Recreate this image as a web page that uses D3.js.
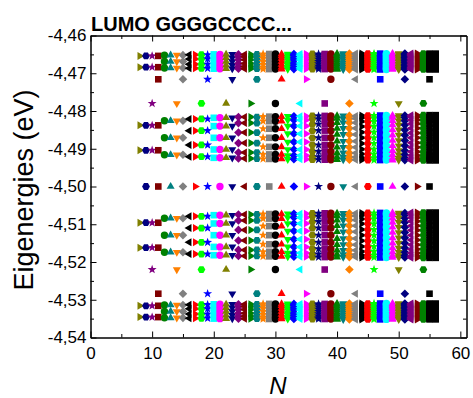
<!DOCTYPE html>
<html>
<head>
<meta charset="utf-8">
<script src="https://cdn.jsdelivr.net/npm/d3@7"></script>
<style>
  html, body { margin: 0; padding: 0; background: #fff; }
  svg { display: block; font-family: Arial, "Liberation Sans", sans-serif; }
</style>
</head>
<body>
<svg id="chart" width="473" height="398"></svg>
<script>
// chain length N (x axis)
const chainLengths = [8, 9, 10, 11, 12, 13, 14, 15, 16, 17, 18, 19, 20, 21, 22, 23, 24,
  25, 26, 27, 28, 29, 30, 31, 32, 33, 34, 35, 36, 37, 38, 39, 40, 41, 42, 43, 44, 45,
  46, 47, 48, 49, 50, 51, 52, 53, 54, 55, 56];

// band eigenvalues (eV), one list per k = floor(N/4), k = 2 .. 14
const band1 = [
  [-4.4654, -4.4684],
  [-4.4652, -4.4669, -4.4686],
  [-4.4651, -4.4662, -4.4676, -4.4687],
  [-4.4650, -4.4659, -4.4669, -4.4679, -4.4688],
  [-4.4650, -4.4656, -4.4664, -4.4674, -4.4682, -4.4688],
  [-4.4649, -4.4654, -4.4661, -4.4669, -4.4677, -4.4684, -4.4689],
  [-4.4649, -4.4653, -4.4659, -4.4665, -4.4673, -4.4679, -4.4685, -4.4689],
  [-4.4649, -4.4652, -4.4657, -4.4663, -4.4669, -4.4675, -4.4681, -4.4686, -4.4689],
  [-4.4648, -4.4651, -4.4656, -4.4661, -4.4666, -4.4672, -4.4677, -4.4682, -4.4687, -4.4690],
  [-4.4648, -4.4651, -4.4655, -4.4659, -4.4664, -4.4669, -4.4674, -4.4679, -4.4683, -4.4687, -4.4690],
  [-4.4648, -4.4650, -4.4654, -4.4658, -4.4662, -4.4667, -4.4671, -4.4676, -4.4680, -4.4684, -4.4688, -4.4690],
  [-4.4648, -4.4650, -4.4653, -4.4657, -4.4661, -4.4665, -4.4669, -4.4673, -4.4677, -4.4681, -4.4685, -4.4688, -4.4690],
  [-4.4648, -4.4650, -4.4653, -4.4656, -4.4659, -4.4663, -4.4667, -4.4671, -4.4675, -4.4679, -4.4682, -4.4685, -4.4688, -4.4690]
];
const band2 = [
  [-4.4838, -4.4904],
  [-4.4826, -4.4871, -4.4916],
  [-4.4821, -4.4852, -4.4890, -4.4921],
  [-4.4818, -4.4840, -4.4871, -4.4902, -4.4924],
  [-4.4816, -4.4832, -4.4857, -4.4885, -4.4910, -4.4926],
  [-4.4815, -4.4827, -4.4847, -4.4871, -4.4895, -4.4915, -4.4927],
  [-4.4814, -4.4824, -4.4840, -4.4860, -4.4882, -4.4902, -4.4918, -4.4928],
  [-4.4813, -4.4821, -4.4835, -4.4852, -4.4871, -4.4890, -4.4907, -4.4921, -4.4929],
  [-4.4813, -4.4820, -4.4831, -4.4846, -4.4862, -4.4880, -4.4896, -4.4911, -4.4922, -4.4929],
  [-4.4812, -4.4818, -4.4828, -4.4841, -4.4856, -4.4871, -4.4886, -4.4901, -4.4914, -4.4924, -4.4930],
  [-4.4812, -4.4817, -4.4826, -4.4837, -4.4850, -4.4864, -4.4878, -4.4892, -4.4905, -4.4916, -4.4925, -4.4930],
  [-4.4811, -4.4816, -4.4824, -4.4834, -4.4846, -4.4858, -4.4871, -4.4884, -4.4896, -4.4908, -4.4918, -4.4926, -4.4931],
  [-4.4811, -4.4815, -4.4823, -4.4832, -4.4843, -4.4854, -4.4865, -4.4877, -4.4888, -4.4899, -4.4910, -4.4919, -4.4927, -4.4931]
];
const band3 = [
  [-4.5096, -4.5162],
  [-4.5084, -4.5129, -4.5174],
  [-4.5079, -4.5110, -4.5148, -4.5179],
  [-4.5076, -4.5098, -4.5129, -4.5160, -4.5182],
  [-4.5074, -4.5090, -4.5115, -4.5143, -4.5168, -4.5184],
  [-4.5073, -4.5085, -4.5105, -4.5129, -4.5153, -4.5173, -4.5185],
  [-4.5072, -4.5082, -4.5098, -4.5118, -4.5140, -4.5160, -4.5176, -4.5186],
  [-4.5071, -4.5079, -4.5093, -4.5110, -4.5129, -4.5148, -4.5165, -4.5179, -4.5187],
  [-4.5071, -4.5078, -4.5089, -4.5104, -4.5120, -4.5138, -4.5154, -4.5169, -4.5180, -4.5187],
  [-4.5070, -4.5076, -4.5086, -4.5099, -4.5114, -4.5129, -4.5144, -4.5159, -4.5172, -4.5182, -4.5188],
  [-4.5070, -4.5075, -4.5084, -4.5095, -4.5108, -4.5122, -4.5136, -4.5150, -4.5163, -4.5174, -4.5183, -4.5188],
  [-4.5069, -4.5074, -4.5082, -4.5092, -4.5104, -4.5116, -4.5129, -4.5142, -4.5154, -4.5166, -4.5176, -4.5184, -4.5189],
  [-4.5069, -4.5073, -4.5081, -4.5090, -4.5101, -4.5112, -4.5123, -4.5135, -4.5146, -4.5157, -4.5168, -4.5177, -4.5185, -4.5189]
];
const band4 = [
  [-4.5316, -4.5346],
  [-4.5314, -4.5331, -4.5348],
  [-4.5313, -4.5324, -4.5338, -4.5349],
  [-4.5312, -4.5321, -4.5331, -4.5341, -4.5350],
  [-4.5312, -4.5318, -4.5326, -4.5336, -4.5344, -4.5350],
  [-4.5311, -4.5316, -4.5323, -4.5331, -4.5339, -4.5346, -4.5351],
  [-4.5311, -4.5315, -4.5321, -4.5327, -4.5335, -4.5341, -4.5347, -4.5351],
  [-4.5311, -4.5314, -4.5319, -4.5325, -4.5331, -4.5337, -4.5343, -4.5348, -4.5351],
  [-4.5310, -4.5313, -4.5318, -4.5323, -4.5328, -4.5334, -4.5339, -4.5344, -4.5349, -4.5352],
  [-4.5310, -4.5313, -4.5317, -4.5321, -4.5326, -4.5331, -4.5336, -4.5341, -4.5345, -4.5349, -4.5352],
  [-4.5310, -4.5312, -4.5316, -4.5320, -4.5324, -4.5329, -4.5333, -4.5338, -4.5342, -4.5346, -4.5350, -4.5352],
  [-4.5310, -4.5312, -4.5315, -4.5319, -4.5323, -4.5327, -4.5331, -4.5335, -4.5339, -4.5343, -4.5347, -4.5350, -4.5352],
  [-4.5310, -4.5312, -4.5315, -4.5318, -4.5321, -4.5325, -4.5329, -4.5333, -4.5337, -4.5341, -4.5344, -4.5347, -4.5350, -4.5352]
];
// in-gap states, by N mod 4
const gapStates = [
  [],
  [-4.5000],
  [-4.4780, -4.5220],
  [-4.4716, -4.5000, -4.5284]
];

const xTicks = [0, 10, 20, 30, 40, 50, 60];
const xMinorTicks = [5, 15, 25, 35, 45, 55];
const yTicks = [-4.54, -4.53, -4.52, -4.51, -4.50, -4.49, -4.48, -4.47, -4.46];
const yTickLabels = ["-4,54", "-4,53", "-4,52", "-4,51", "-4,50", "-4,49", "-4,48", "-4,47", "-4,46"];
const yMinorTicks = [-4.535, -4.525, -4.515, -4.505, -4.495, -4.485, -4.475, -4.465];

// Origin-like plot style cycles
const colorCycle = ["#808000", "#000080", "#800080", "#800000", "#008000", "#008080", "#ff8000",
  "#808080", "#000000", "#ff0000", "#00ff00", "#0000ff", "#00ffff", "#ff00ff"];
const shapeCycle = ["right", "hexagon", "star", "square", "circle", "up", "down", "diamond", "left"];

const svg = d3.select("#chart");
const x = d3.scaleLinear().domain([0, 61]).range([90.5, 466.5]);
const y = d3.scaleLinear().domain([-4.54, -4.46]).range([337.5, 35.5]);

const polygon = (pts) => "M" + pts.map((p) => p[0].toFixed(2) + "," + p[1].toFixed(2)).join("L") + "Z";
const ring = (n, r, a0) => d3.range(n).map((i) => {
  const a = a0 + (i * 2 * Math.PI) / n;
  return [r * Math.cos(a), r * Math.sin(a)];
});

const shapes = {
  square: polygon([[-3.3, -3.3], [3.3, -3.3], [3.3, 3.3], [-3.3, 3.3]]),
  circle: "M-3.7,0A3.7,3.7 0 1,0 3.7,0A3.7,3.7 0 1,0 -3.7,0Z",
  up: polygon([[0, -4.6], [4, 2.3], [-4, 2.3]]),
  down: polygon([[0, 4.6], [4, -2.3], [-4, -2.3]]),
  right: polygon([[4.6, 0], [-2.3, -4], [-2.3, 4]]),
  left: polygon([[-4.6, 0], [2.3, -4], [2.3, 4]]),
  diamond: polygon([[0, -4.3], [4.3, 0], [0, 4.3], [-4.3, 0]]),
  hexagon: polygon(ring(6, 3.9, 0)),
  star: polygon(d3.range(10).map((i) => {
    const r = i % 2 ? 1.9 : 4.7;
    const a = -Math.PI / 2 + (i * Math.PI) / 5;
    return [r * Math.cos(a), r * Math.sin(a)];
  }))
};

const styleFor = (n, i) => {
  // the last two chains were drawn as black squares
  if (n >= 55) return { color: "#000000", shape: "square" };
  return { color: colorCycle[i % colorCycle.length], shape: shapeCycle[i % shapeCycle.length] };
};

const points = [];
chainLengths.forEach((n, i) => {
  const k = Math.floor(n / 4) - 2;
  const levels = [].concat(band1[k], band2[k], band3[k], band4[k], gapStates[n % 4]);
  const st = styleFor(n, i);
  levels.forEach((e) => points.push({ n, e, color: st.color, shape: st.shape }));
});

// markers
svg.append("g")
  .selectAll("path")
  .data(points)
  .join("path")
  .attr("transform", (d) => `translate(${x(d.n)},${y(d.e)})`)
  .attr("d", (d) => shapes[d.shape])
  .attr("fill", (d) => d.color);

// axes
const styleAxis = (g) => {
  g.selectAll("path, line").attr("stroke", "#000").attr("stroke-width", 1);
  g.selectAll("text").attr("fill", "#000").attr("font-size", 17)
    .attr("font-family", "Arial, 'Liberation Sans', sans-serif");
};

svg.append("g")
  .attr("transform", `translate(0,${y(-4.54)})`)
  .call(d3.axisBottom(x).tickValues(xTicks).tickSize(-6).tickSizeOuter(0).tickPadding(9).tickFormat(d3.format("d")))
  .call(styleAxis);
svg.append("g")
  .attr("transform", `translate(0,${y(-4.54)})`)
  .call(d3.axisBottom(x).tickValues(xMinorTicks).tickSize(-3.5).tickSizeOuter(0).tickFormat(""))
  .call(styleAxis);
svg.append("g")
  .attr("transform", `translate(0,${y(-4.46)})`)
  .call(d3.axisTop(x).tickValues(xTicks).tickSize(-6).tickSizeOuter(0).tickFormat(""))
  .call(styleAxis);
svg.append("g")
  .attr("transform", `translate(0,${y(-4.46)})`)
  .call(d3.axisTop(x).tickValues(xMinorTicks).tickSize(-3.5).tickSizeOuter(0).tickFormat(""))
  .call(styleAxis);

svg.append("g")
  .attr("transform", `translate(${x(0)},0)`)
  .call(d3.axisLeft(y).tickValues(yTicks).tickSize(-6).tickSizeOuter(0).tickPadding(4)
    .tickFormat((d, i) => yTickLabels[i]))
  .call(styleAxis);
svg.append("g")
  .attr("transform", `translate(${x(0)},0)`)
  .call(d3.axisLeft(y).tickValues(yMinorTicks).tickSize(-3.5).tickSizeOuter(0).tickFormat(""))
  .call(styleAxis);
svg.append("g")
  .attr("transform", `translate(${x(61)},0)`)
  .call(d3.axisRight(y).tickValues(yTicks).tickSize(-6).tickSizeOuter(0).tickFormat(""))
  .call(styleAxis);
svg.append("g")
  .attr("transform", `translate(${x(61)},0)`)
  .call(d3.axisRight(y).tickValues(yMinorTicks).tickSize(-3.5).tickSizeOuter(0).tickFormat(""))
  .call(styleAxis);

// titles
svg.append("text")
  .attr("x", 91)
  .attr("y", 31)
  .attr("font-size", 20)
  .attr("font-weight", "bold")
  .attr("fill", "#000")
  .text("LUMO GGGGCCCC...");

svg.append("text")
  .attr("transform", "translate(33,190) rotate(-90)")
  .attr("text-anchor", "middle")
  .attr("font-size", 27)
  .attr("fill", "#000")
  .text("Eigenergies (eV)");

svg.append("text")
  .attr("x", 278)
  .attr("y", 394)
  .attr("text-anchor", "middle")
  .attr("font-size", 24)
  .attr("font-style", "italic")
  .attr("fill", "#000")
  .text("N");
</script>
</body>
</html>
